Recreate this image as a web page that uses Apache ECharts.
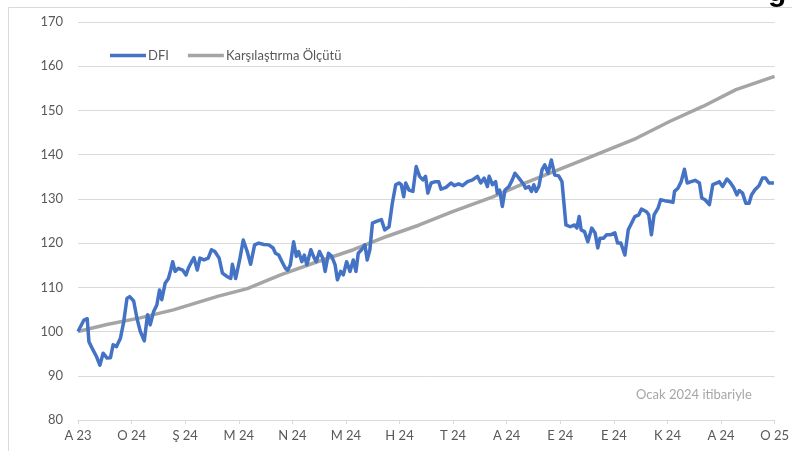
<!DOCTYPE html>
<html>
<head>
<meta charset="utf-8">
<script src="https://cdn.jsdelivr.net/npm/echarts@6/dist/echarts.min.js"></script>
<style>html,body{margin:0;padding:0;background:#fff;}#c{width:792px;height:451px;}</style>
</head>
<body>
<div id="c"></div>
<script>
// Tick labels of the x axis (one per period)
const tickLabels = ['A 23','O 24','Ş 24','M 24','N 24','M 24','H 24','T 24','A 24','E 24','E 24','K 24','A 24','O 25'];

// DFI: position (in label periods) and index value
const dfiT = [0,0.111,0.172,0.204,0.265,0.347,0.408,0.469,0.543,0.606,0.655,0.718,0.792,0.853,0.914,0.964,1.039,1.100,1.163,1.237,1.298,1.348,1.410,1.471,1.521,1.563,1.626,1.688,1.730,1.767,1.812,1.873,1.953,2.016,2.059,2.120,2.164,2.226,2.276,2.350,2.430,2.491,2.554,2.634,2.695,2.788,2.851,2.881,2.943,3.023,3.084,3.158,3.221,3.296,3.375,3.468,3.561,3.641,3.685,3.746,3.807,3.871,3.913,3.963,4.024,4.075,4.117,4.178,4.223,4.271,4.345,4.395,4.445,4.507,4.568,4.612,4.674,4.735,4.798,4.841,4.902,4.952,5.013,5.076,5.137,5.187,5.230,5.291,5.355,5.397,5.447,5.495,5.569,5.662,5.725,5.805,5.866,5.929,5.990,6.033,6.078,6.115,6.176,6.250,6.311,6.374,6.436,6.486,6.528,6.590,6.671,6.732,6.775,6.868,6.960,7.023,7.103,7.177,7.270,7.363,7.455,7.517,7.580,7.641,7.673,7.734,7.795,7.826,7.869,7.919,7.969,8.043,8.105,8.155,8.229,8.322,8.352,8.414,8.463,8.507,8.550,8.600,8.661,8.711,8.772,8.834,8.897,8.971,9.032,9.063,9.106,9.186,9.268,9.310,9.353,9.390,9.453,9.514,9.588,9.650,9.700,9.742,9.805,9.866,9.946,10.020,10.070,10.131,10.206,10.269,10.330,10.392,10.466,10.516,10.609,10.651,10.701,10.751,10.825,10.873,10.948,11.040,11.103,11.133,11.196,11.257,11.318,11.369,11.443,11.517,11.597,11.641,11.703,11.783,11.846,11.925,11.968,12.031,12.111,12.172,12.235,12.296,12.339,12.402,12.463,12.524,12.569,12.630,12.710,12.773,12.834,12.895,12.988,13];
const dfiV = [100.0,102.6,102.9,97.7,96.2,94.3,92.4,95.1,94.0,94.1,97.0,96.6,98.5,102.2,107.5,107.9,106.9,103.0,100.0,97.9,103.8,101.5,104.5,106.0,109.4,107.2,110.9,112.0,113.9,115.8,113.6,114.3,113.9,112.8,114.3,115.8,116.7,113.9,116.6,116.2,116.6,118.5,118.1,116.6,113.2,112.4,112.0,115.2,112.0,116.6,120.7,118.1,115.2,119.6,120.0,119.7,119.6,118.9,117.7,117.3,115.8,114.3,113.9,115.1,120.3,117.0,118.1,115.8,117.3,115.1,118.5,117.0,115.8,118.1,116.6,113.6,117.7,117.0,115.1,111.7,113.6,112.8,115.8,113.6,116.2,113.6,117.7,118.5,119.6,116.2,118.5,124.5,124.9,125.3,123.0,123.7,129.0,133.2,133.6,133.2,130.5,133.6,132.0,131.7,137.3,135.1,134.3,135.1,131.3,133.6,133.9,133.9,132.2,132.6,133.6,133.0,133.4,133.0,133.9,134.3,135.1,133.6,134.7,132.8,135.1,133.2,133.9,131.3,132.0,128.3,132.0,132.8,134.3,135.8,134.7,133.2,132.4,132.8,131.7,133.2,131.7,132.8,136.6,137.7,135.8,138.8,135.4,135.2,133.9,129.8,124.1,123.7,124.1,123.4,126.0,123.0,122.6,120.3,123.4,122.3,118.9,121.1,121.1,121.9,121.9,122.3,120.0,120.0,117.3,123.0,124.5,126.0,126.4,127.7,127.1,126.4,121.9,126.4,127.9,129.8,129.6,129.4,129.2,131.7,132.4,133.9,136.7,133.6,133.9,134.2,133.6,130.2,129.8,128.7,133.2,133.6,133.9,132.8,134.5,133.7,132.6,130.9,131.9,131.3,129.0,129.0,130.9,132.0,133.0,134.7,134.7,133.6,133.6,133.6];

// Benchmark (Karşılaştırma Ölçütü)
const benchT = [0,0.54,1.16,1.78,2.62,3.16,3.78,4.40,5.14,5.76,6.37,6.99,7.73,8.35,8.97,9.59,10.42,11.04,11.66,12.28,13];
const benchV = [100,101.6,103.1,104.9,108.0,109.7,112.8,115.5,118.5,121.5,124.1,127.1,130.4,133.6,136.6,139.6,143.7,147.5,150.9,154.7,157.7];

const yTicks = {min: 80, max: 170, step: 10};

const FONT = 'Lato, "Noto Sans", sans-serif';
const chart = echarts.init(document.getElementById('c'), null, {renderer: 'canvas'});
chart.setOption({
  animation: false,
  backgroundColor: '#ffffff',
  grid: {left: 78, right: 12, top: 22, bottom: 31, containLabel: false},
  legend: {
    left: 105, top: 44, itemGap: 19, itemWidth: 36, itemHeight: 3.5, icon: 'rect',
    textStyle: {color: '#595959', fontSize: 13, fontFamily: FONT, padding: [0,0,0,-3]},
    data: ['DFI', 'Karşılaştırma Ölçütü']
  },
  xAxis: {
    type: 'value', min: 0, max: tickLabels.length - 1, interval: 1,
    axisLine: {lineStyle: {color: '#d9d9d9', width: 1}},
    axisTick: {show: true, length: 4, lineStyle: {color: '#d9d9d9'}},
    splitLine: {show: false},
    axisLabel: {color: '#595959', fontSize: 13, fontFamily: FONT, margin: 9,
      formatter: v => tickLabels[Math.round(v)] || ''}
  },
  yAxis: {
    type: 'value', min: yTicks.min, max: yTicks.max, interval: yTicks.step,
    axisLine: {show: false}, axisTick: {show: false},
    splitLine: {lineStyle: {color: '#d9d9d9', width: 1}},
    axisLabel: {color: '#595959', fontSize: 13, fontFamily: FONT, margin: 15}
  },
  graphic: [
    {type: 'rect', shape: {x: 8.5, y: 7.5, width: 900, height: 600}, style: {fill: 'none', stroke: '#d9d9d9', lineWidth: 1}, silent: true},
    {type: 'text', left: 636, top: 388, style: {text: 'Ocak 2024 itibariyle', fill: '#a6a6a6', fontSize: 13, fontFamily: FONT}},
    {type: 'text', left: 768, top: -22, style: {text: 'g', fill: '#000', fontSize: 30, fontWeight: 'bold', fontFamily: '"Liberation Sans", Arial, sans-serif'}}
  ],
  series: [
    {name: 'Karşılaştırma Ölçütü', type: 'line', showSymbol: false, symbol: 'none',
     lineStyle: {color: '#a5a5a5', width: 3.5}, itemStyle: {color: '#a5a5a5'},
     data: benchT.map((t, i) => [t, benchV[i]])},
    {name: 'DFI', type: 'line', showSymbol: false, symbol: 'none',
     lineStyle: {color: '#4472c4', width: 3.5, join: 'round'}, itemStyle: {color: '#4472c4'},
     data: dfiT.map((t, i) => [t, dfiV[i]])}
  ]
});
</script>
</body>
</html>
